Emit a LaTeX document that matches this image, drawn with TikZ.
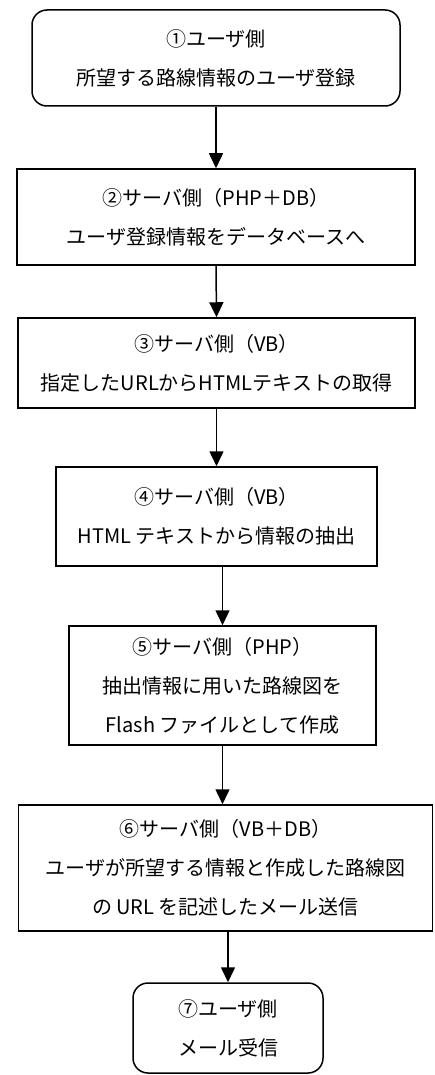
\documentclass[tikz,border=0pt]{standalone}
\usepackage{fontspec}
\setmainfont{Noto Sans CJK JP}
\usetikzlibrary{arrows.meta}
\tikzset{
  box/.style={draw, line width=1.5pt, inner sep=0pt, align=center,
    font=\fontsize{20pt}{39pt}\selectfont},
  rbox/.style={box, rounded corners=15pt},
  arr/.style={line width=1.5pt, -{Triangle[length=15pt,width=14pt]}}
}
\begin{document}
\begin{tikzpicture}[x=1pt,y=-1pt]
\useasboundingbox (0,0) rectangle (434,1075);
\node[rbox, minimum width=368pt, minimum height=96pt] (b1) at (216,58)
  {①ユーザ側\\所望する路線情報のユーザ登録};
\node[box, minimum width=398pt, minimum height=96pt] (b2) at (216,217)
  {②サーバ側（PHP＋DB）\\ユーザ登録情報をデータベースへ};
\node[box, minimum width=397pt, minimum height=90pt] (b3) at (216.5,363)
  {③サーバ側（VB）\\指定したURLからHTMLテキストの取得};
\node[box, minimum width=321pt, minimum height=99pt] (b4) at (216.5,516.5)
  {④サーバ側（VB）\\HTML テキストから情報の抽出};
\node[box, minimum width=307pt, minimum height=119pt] (b5) at (222.5,685.5)
  {⑤サーバ側（PHP）\\抽出情報に用いた路線図を\\Flash ファイルとして作成};
\node[box, minimum width=414pt, minimum height=126pt] (b6) at (225.5,868)
  {⑥サーバ側（VB＋DB）\\ユーザが所望する情報と作成した路線図\\の URL を記述したメール送信};
\node[rbox, minimum width=190pt, minimum height=90pt] (b7) at (228,1028)
  {⑦ユーザ側\\メール受信};
\draw[arr] (b1.south) -- (b2.north);
\draw[arr] (b2.south) -- (b3.north);
\draw[arr] (b3.south) -- (b4.north);
\draw[arr] (b5.north |- b4.south) -- (b5.north);
\draw[arr] (b5.south) -- (b5.south |- b6.north);
\draw[arr] (b7.north |- b6.south) -- (b7.north);
\end{tikzpicture}
\end{document}
